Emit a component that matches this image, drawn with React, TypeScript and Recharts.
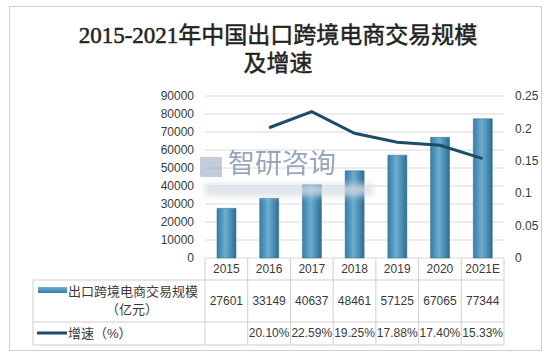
import { ComposedChart, Bar, Line, XAxis, YAxis, CartesianGrid } from "recharts"

const years = ["2015", "2016", "2017", "2018", "2019", "2020", "2021E"]
const tradeScale = [27601, 33149, 40637, 48461, 57125, 67065, 77344]
const growthRate = [null, 0.201, 0.2259, 0.1925, 0.1788, 0.174, 0.1533]
const leftTicks = [0, 10000, 20000, 30000, 40000, 50000, 60000, 70000, 80000, 90000]
const rightTicks = [0, 0.05, 0.1, 0.15, 0.2, 0.25]
const titleLines = ["2015-2021年中国出口跨境电商交易规模", "及增速"]
const barName = ["出口跨境电商交易规模", "（亿元）"]
const lineName = "增速（%）"

const W = 552
const H = 356
const LEFT_W = 205
const RIGHT_W = 48
const TOP = 96
const PLOT_W = W - LEFT_W - RIGHT_W
const COL_W = PLOT_W / years.length

const LINE_COLOR = "#1b4e66"
const BORDER = "#cfcfcf"
const TEXT = "#3a3a3a"
const FONT = "'Liberation Sans', 'Noto Sans CJK SC', sans-serif"
const TITLE_FONT = "'Liberation Serif', 'Noto Sans CJK SC', serif"

const data = years.map((y, i) => ({ year: y, scale: tradeScale[i], growth: growthRate[i] }))

const fmtGrowth = (v: number | null) => (v == null ? "" : (v * 100).toFixed(2) + "%")

// x-axis tick draws one column of the data table below the plot
const TableTick = (props: any) => {
  const { x, y, payload } = props
  const i = payload.index
  const half = COL_W / 2
  const row = data[i]
  return (
    <g fontFamily={FONT} fontSize={12} fill={TEXT}>
      {i === 0 && <line x1={x - half} x2={x - half} y1={y} y2={y + 87} stroke={BORDER} />}
      <line x1={x + half} x2={x + half} y1={y} y2={y + 87} stroke={BORDER} />
      <text x={x} y={y + 15} textAnchor="middle">{row.year}</text>
      <text x={x} y={y + 47} textAnchor="middle">{row.scale}</text>
      <text x={x} y={y + 79} textAnchor="middle">{fmtGrowth(row.growth)}</text>
    </g>
  )
}

export default function App() {
  const plotBottom = H - 98
  const tableLeft = 33
  const tableRight = LEFT_W + PLOT_W
  return (
    <div style={{ position: "fixed", left: 0, top: 0, width: W, height: H, background: "#fff" }}>
      <div
        style={{
          position: "absolute", left: 9, top: 6, width: 533, height: 345,
          border: `1px solid ${BORDER}`, boxSizing: "border-box",
        }}
      />
      <svg width={W} height={H} style={{ position: "absolute", left: 0, top: 0 }}>
        <text x={278} y={43} textAnchor="middle" fontSize={23} fontFamily={TITLE_FONT}
          fill="#222" stroke="#222" strokeWidth={0.5}>
          {titleLines[0]}
        </text>
        <text x={278} y={71} textAnchor="middle" fontSize={23} fontFamily={TITLE_FONT}
          fill="#222" stroke="#222" strokeWidth={0.5}>
          {titleLines[1]}
        </text>
      </svg>
      <ComposedChart
        width={W}
        height={H}
        data={data}
        margin={{ top: TOP, right: 0, bottom: 0, left: 0 }}
        style={{ position: "absolute", left: 0, top: 0 }}
      >
        <defs>
          <linearGradient id="barGrad" x1="0" y1="0" x2="1" y2="0">
            <stop offset="0%" stopColor="#3a7ca4" />
            <stop offset="45%" stopColor="#6aaed0" />
            <stop offset="100%" stopColor="#2f6c92" />
          </linearGradient>
        </defs>
        <CartesianGrid yAxisId="left" vertical={false} stroke="#dadada" />
        <XAxis dataKey="year" height={98} axisLine={false} tickLine={false} tickSize={0} tickMargin={0}
          interval={0} tick={<TableTick />} />
        <YAxis yAxisId="left" width={LEFT_W} domain={[0, 90000]} ticks={leftTicks} interval={0}
          axisLine={false} tickLine={false} tickSize={0} tickMargin={11}
          tick={{ fill: TEXT, fontSize: 12, fontFamily: FONT }} />
        <YAxis yAxisId="right" orientation="right" width={RIGHT_W} domain={[0, 0.25]} ticks={rightTicks}
          interval={0} axisLine={false} tickLine={false} tickSize={0} tickMargin={11}
          tick={{ fill: TEXT, fontSize: 12, fontFamily: FONT }} />
        <Bar yAxisId="left" dataKey="scale" barSize={19} fill="url(#barGrad)" stroke="#2f6c92"
          strokeWidth={0.5} isAnimationActive={false} />
        <Line yAxisId="right" dataKey="growth" type="linear" stroke={LINE_COLOR} strokeWidth={3}
          dot={false} activeDot={false} isAnimationActive={false} />
      </ComposedChart>
      <svg width={W} height={H} style={{ position: "absolute", left: 0, top: 0, pointerEvents: "none" }}>
        <defs>
          <linearGradient id="legendGrad" x1="0" y1="0" x2="0" y2="1">
            <stop offset="0%" stopColor="#6aaed0" />
            <stop offset="100%" stopColor="#3a7ca4" />
          </linearGradient>
          <filter id="soft" x="-20%" y="-100%" width="140%" height="300%">
            <feGaussianBlur stdDeviation="3" />
          </filter>
        </defs>
        {/* watermark */}
        <text x={228} y={173} fontSize={27} fill="#8797ad" opacity={0.85}
          fontFamily="'Noto Sans CJK SC', sans-serif">智研咨询</text>
        <rect x={200} y={157} width={22} height={20} fill="#8fa3bd" opacity={0.55} />
        <rect x={205} y={184} width={168} height={12} fill="#d5dde4" opacity={0.8} filter="url(#soft)" />
        {/* table frame */}
        <line x1={tableLeft} x2={tableRight} y1={plotBottom + 22} y2={plotBottom + 22} stroke={BORDER} />
        <line x1={tableLeft} x2={tableRight} y1={plotBottom + 64} y2={plotBottom + 64} stroke={BORDER} />
        <line x1={tableLeft} x2={tableRight} y1={plotBottom + 87} y2={plotBottom + 87} stroke={BORDER} />
        <line x1={tableLeft} x2={tableLeft} y1={plotBottom + 22} y2={plotBottom + 87} stroke={BORDER} />
        {/* legend cells */}
        <rect x={38} y={287} width={29} height={6} fill="url(#legendGrad)" />
        <text x={68} y={296} fontSize={13} fill={TEXT} fontFamily={FONT}>{barName[0]}</text>
        <text x={132} y={314} fontSize={13} fill={TEXT} fontFamily={FONT} textAnchor="middle">{barName[1]}</text>
        <line x1={37} x2={67} y1={333} y2={333} stroke={LINE_COLOR} strokeWidth={3} />
        <text x={68} y={338} fontSize={13} fill={TEXT} fontFamily={FONT}>{lineName}</text>
      </svg>
    </div>
  )
}
